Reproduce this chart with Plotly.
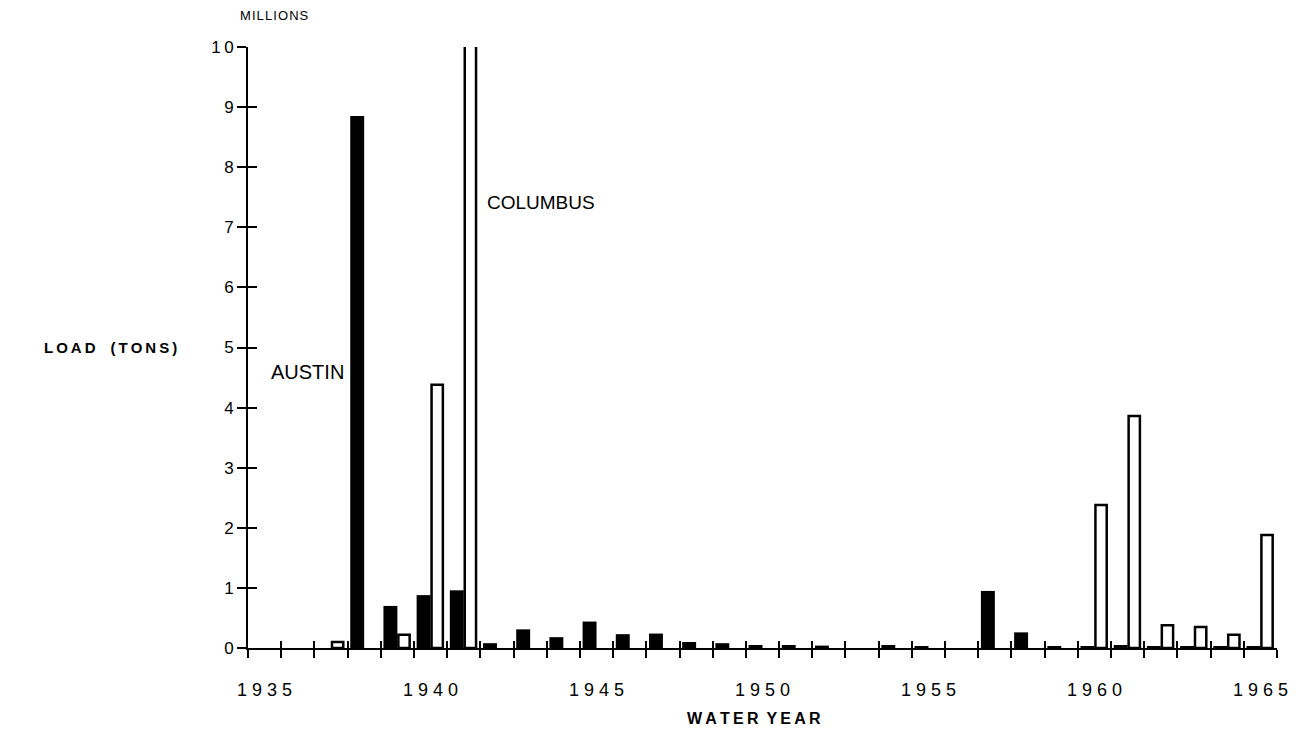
import plotly.graph_objects as go

# ---- data ----
years = list(range(1935, 1966))
austin = [0, 0, 0, 8.85, 0.70, 0.88, 0.96, 0.08, 0.31, 0.18,
          0.44, 0.23, 0.24, 0.10, 0.08, 0.05, 0.05, 0.04, 0, 0.05,
          0.02, 0, 0.95, 0.26, 0.02, 0.03, 0.05, 0.02, 0.02, 0.03, 0.02]
columbus = [None, None, 0.10, None, 0.22, 4.38, 12.0, None, None, None,
            None, None, None, None, None, None, None, None, None, None,
            None, None, None, None, None, 2.38, 3.86, 0.38, 0.35, 0.22, 1.88]
label_years = [1935, 1940, 1945, 1950, 1955, 1960, 1965]
y_ticks = list(range(0, 11))

FONT = "Liberation Sans, Arial, sans-serif"


def spaced(s, sep=" "):
    return sep.join(list(s))


boundaries = [y - 0.5 for y in years] + [years[-1] + 0.5]
x_range = [years[0] - 0.5, years[-1] + 0.5]
y_range = [0, 10]

fig = go.Figure()
fig.add_trace(go.Bar(
    x=years, y=austin, name="AUSTIN",
    offset=-0.42, width=0.42,
    marker=dict(color="black", line=dict(width=0)),
    showlegend=False,
))
fig.add_trace(go.Bar(
    x=years, y=columbus, name="COLUMBUS",
    offset=0.03, width=0.34,
    marker=dict(color="white", line=dict(color="black", width=2.5)),
    showlegend=False,
))
# helper traces so the overlaid tick axes get drawn
fig.add_trace(go.Scatter(x=[None], y=[None], xaxis="x2", yaxis="y",
                         showlegend=False, hoverinfo="skip"))
fig.add_trace(go.Scatter(x=[None], y=[None], xaxis="x", yaxis="y2",
                         showlegend=False, hoverinfo="skip"))

fig.update_layout(
    width=1289, height=722,
    margin=dict(l=240, r=20, t=39, b=82, autoexpand=False),
    paper_bgcolor="white", plot_bgcolor="white",
    barmode="overlay",
    font=dict(family=FONT, color="black"),
    xaxis=dict(
        range=x_range, showgrid=False, zeroline=False,
        showline=True, linecolor="black", linewidth=2,
        tickmode="array", tickvals=label_years,
        ticktext=[spaced(str(y)) for y in label_years],
        ticks="", ticklabelstandoff=24,
        tickfont=dict(size=18, family=FONT, color="black"),
        minor=dict(tickmode="array", tickvals=boundaries, ticks="outside",
                   ticklen=8, tickwidth=2, tickcolor="black", showgrid=False),
        fixedrange=True,
    ),
    xaxis2=dict(
        range=x_range, overlaying="x", anchor="y", side="bottom",
        showgrid=False, zeroline=False, showline=False,
        tickmode="array", tickvals=boundaries, ticks="inside",
        ticklen=7, tickwidth=2, tickcolor="black", showticklabels=False,
        fixedrange=True,
    ),
    yaxis=dict(
        range=y_range, showgrid=False, zeroline=False,
        showline=True, linecolor="black", linewidth=2,
        tickmode="array", tickvals=y_ticks,
        ticktext=[spaced(str(v), "\u2009") for v in y_ticks],
        ticks="outside", ticklen=9, tickwidth=2, tickcolor="black",
        tickfont=dict(size=17, family=FONT, color="black"),
        fixedrange=True,
    ),
    yaxis2=dict(
        range=y_range, overlaying="y", anchor="x", side="left",
        showgrid=False, zeroline=False, showline=False,
        tickmode="array", tickvals=y_ticks, ticks="inside",
        ticklen=9, tickwidth=2, tickcolor="black", showticklabels=False,
        fixedrange=True,
    ),
    annotations=[
        dict(text=spaced("LOAD", "\u2009") + "\u2002\u2002" + spaced("(TONS)", "\u2009"),
             xref="paper", yref="y", x=-0.134, y=5,
             xanchor="center", yanchor="middle", showarrow=False,
             font=dict(size=15, family=FONT, weight="bold")),
        dict(text=spaced("MILLIONS", "\u200a"),
             xref="paper", yref="paper", x=0.026, y=1.052,
             xanchor="center", yanchor="middle", showarrow=False,
             font=dict(size=13, family=FONT)),
        dict(text=spaced("WATER", "\u2009") + "\u2002" + spaced("YEAR", "\u2009"),
             xref="paper", yref="paper", x=0.492, y=-0.117,
             xanchor="center", yanchor="middle", showarrow=False,
             font=dict(size=16, family=FONT, weight="bold")),
        dict(text="AUSTIN", xref="x", yref="y", x=1937.5, y=4.6,
             xanchor="right", yanchor="middle", xshift=-2, showarrow=False,
             font=dict(size=20, family=FONT)),
        dict(text="COLUMBUS", xref="x", yref="y", x=1941.5, y=7.42,
             xanchor="left", yanchor="middle", xshift=5, showarrow=False,
             font=dict(size=19, family=FONT)),
    ],
)

fig.write_html("out.html")
